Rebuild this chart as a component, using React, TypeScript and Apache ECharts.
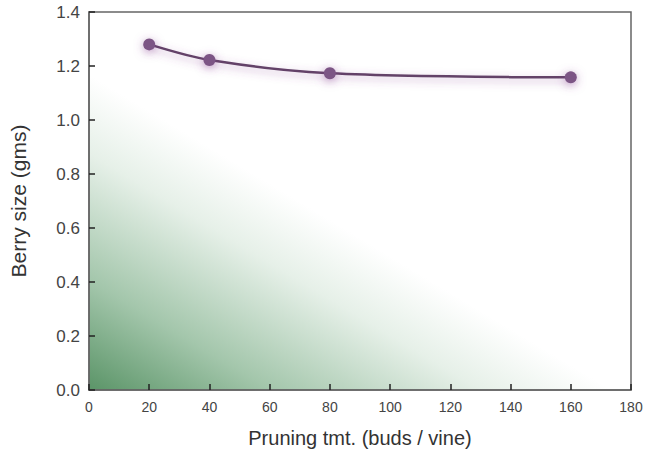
import React, { useEffect, useRef } from "react";
import * as echarts from "echarts";

const xValues = [20, 40, 80, 160];
const berrySize = [1.28, 1.222, 1.173, 1.158];
const xTicks = [0, 20, 40, 60, 80, 100, 120, 140, 160, 180];
const yTicks = [0, 0.2, 0.4, 0.6, 0.8, 1.0, 1.2, 1.4];

const GRID = { left: 89, right: 17, top: 12, bottom: 62 };

export default function App() {
  const ref = useRef<HTMLDivElement>(null);
  useEffect(() => {
    document.body.style.margin = "0";
    const chart = echarts.init(ref.current!, null, { renderer: "svg" });
    const H = 453;
    const x0 = GRID.left, y0 = H - GRID.bottom;
    const bg = new echarts.graphic.LinearGradient(
      x0, y0, x0 + 140, y0 - 232,
      [
        { offset: 0, color: "#5a9467" },
        { offset: 0.35, color: "#a3c6ab" },
        { offset: 0.75, color: "#e6f0e8" },
        { offset: 1, color: "#ffffff" },
      ],
      true
    );
    chart.setOption({
      animation: false,
      backgroundColor: "#ffffff",
      grid: {
        ...GRID,
        show: true,
        backgroundColor: bg,
        borderColor: "#666",
        borderWidth: 1.5,
      },
      xAxis: {
        type: "value",
        min: 0,
        max: 180,
        interval: 20,
        name: "Pruning tmt. (buds / vine)",
        nameLocation: "middle",
        nameGap: 38,
        nameTextStyle: { fontFamily: "Liberation Sans", fontSize: 20, color: "#333" },
        axisLine: { show: true, lineStyle: { color: "#666", width: 1.5 } },
        axisTick: { show: true, inside: true, length: 6, lineStyle: { color: "#222", width: 1.5 } },
        axisLabel: {
          fontFamily: "Liberation Sans",
          fontSize: 14,
          color: "#444",
          margin: 10,
          customValues: xTicks,
          formatter: (v: number) => String(v),
        },
        splitLine: { show: false },
      },
      yAxis: {
        type: "value",
        min: 0,
        max: 1.4,
        interval: 0.2,
        name: "Berry size (gms)",
        nameLocation: "middle",
        nameGap: 60,
        nameTextStyle: { fontFamily: "Liberation Sans", fontSize: 21, color: "#333" },
        axisLine: { show: true, lineStyle: { color: "#666", width: 1.5 } },
        axisTick: { show: true, inside: true, length: 6, lineStyle: { color: "#222", width: 1.5 } },
        axisLabel: {
          fontFamily: "Liberation Sans",
          fontSize: 17,
          color: "#444",
          margin: 9,
          customValues: yTicks,
          formatter: (v: number) => v.toFixed(1),
        },
        splitLine: { show: false },
      },
      series: [
        {
          type: "line",
          data: xValues.map((x, i) => [x, berrySize[i]]),
          smooth: 0.3,
          symbol: "circle",
          symbolSize: 12,
          itemStyle: {
            color: "#7c5585",
            shadowBlur: 10,
            shadowColor: "rgba(140,70,150,0.55)",
            shadowOffsetY: 2,
          },
          lineStyle: {
            color: "#634268",
            width: 2.5,
            shadowBlur: 8,
            shadowColor: "rgba(140,70,150,0.5)",
            shadowOffsetY: 3,
          },
        },
      ],
    });
    return () => chart.dispose();
  }, []);
  return <div ref={ref} style={{ width: 648, height: 453 }} />;
}
